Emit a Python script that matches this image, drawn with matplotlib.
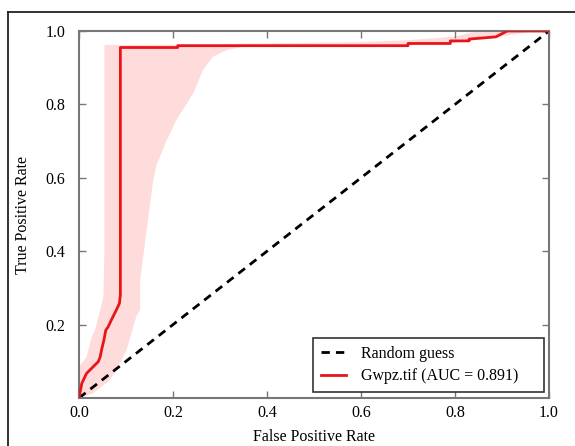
import numpy as np
import matplotlib
matplotlib.use("Agg")
import matplotlib.pyplot as plt
from matplotlib.lines import Line2D

# ROC curve
roc_fpr = [0.0, 0.006, 0.016, 0.030, 0.041, 0.045, 0.048, 0.053, 0.057, 0.062,
           0.069, 0.076, 0.081, 0.086, 0.088, 0.088, 0.21, 0.21, 0.70, 0.70,
           0.79, 0.79, 0.83, 0.83, 0.887, 0.911, 1.0]
roc_tpr = [0.0, 0.040, 0.067, 0.085, 0.099, 0.112, 0.131, 0.158, 0.185, 0.194,
           0.213, 0.231, 0.244, 0.258, 0.281, 0.955, 0.955, 0.960, 0.960, 0.966,
           0.966, 0.973, 0.973, 0.978, 0.984, 1.0, 1.0]

# confidence band, upper/left edge
band_hi_x = [0.0, 0.006, 0.016, 0.027, 0.034, 0.045, 0.052, 0.054, 0.054,
             0.2, 0.4, 0.6, 0.7, 0.8, 0.85, 1.0]
band_hi_y = [0.085, 0.095, 0.112, 0.167, 0.185, 0.24, 0.276, 0.40, 0.962,
             0.963, 0.966, 0.970, 0.975, 0.985, 1.0, 1.0]
# confidence band, lower/right edge
band_lo_x = [0.0, 0.03, 0.066, 0.091, 0.101, 0.122, 0.13, 0.13, 0.144, 0.158,
             0.165, 0.186, 0.207, 0.243, 0.264, 0.285, 0.314, 0.35, 0.5, 0.7,
             0.8, 0.9, 0.97, 1.0]
band_lo_y = [0.0, 0.013, 0.049, 0.104, 0.131, 0.222, 0.24, 0.32, 0.458, 0.594,
             0.635, 0.70, 0.757, 0.83, 0.894, 0.93, 0.948, 0.957, 0.958, 0.962,
             0.968, 0.985, 1.0, 1.0]

auc = 0.891
label = "Gwpz.tif"

plt.rcParams['font.family'] = ['Liberation Serif', 'DejaVu Serif']
plt.rcParams['font.size'] = 11.5

fig = plt.figure(figsize=(5.75, 4.46), dpi=100)
ax = fig.add_axes([0.1374, 0.1076, 0.8174, 0.8229])

# outer frame of the screenshot (left and top only)
fig.add_artist(Line2D([8/575, 8/575], [0, 1 - 12/446], transform=fig.transFigure,
                      color='#222222', lw=1.3))
fig.add_artist(Line2D([8/575, 1], [1 - 12/446, 1 - 12/446], transform=fig.transFigure,
                      color='#222222', lw=1.3))

poly_x = list(band_hi_x) + list(band_lo_x[::-1])
poly_y = list(band_hi_y) + list(band_lo_y[::-1])
ax.fill(poly_x, poly_y, color='#ffdcdc', lw=0, zorder=1)

ax.plot([0, 1], [0, 1], 'k--', lw=2, dashes=(3, 2.2), label='Random guess', zorder=2)
ax.plot(roc_fpr, roc_tpr, color='#e8141a', lw=2, label='%s (AUC = %.3f)' % (label, auc),
        zorder=3)

ax.set_xlim(0, 1)
ax.set_ylim(0, 1)
ax.set_xticks([0.0, 0.2, 0.4, 0.6, 0.8, 1.0])
ax.set_yticks([0.2, 0.4, 0.6, 0.8, 1.0])
ax.set_xlabel('False Positive Rate', labelpad=6)
ax.set_ylabel('True Positive Rate', labelpad=10)
ax.tick_params(direction='in', top=True, right=True, length=5, color='#777777',
               width=1, labelsize=11.5)
ax.tick_params(axis='y', pad=10)
ax.tick_params(axis='x', pad=5)
for s in ax.spines.values():
    s.set_color('#777777')
    s.set_linewidth(1.5)

# legend box stretched to the width seen in the reference
leg = ax.legend(loc='lower left', mode='expand', bbox_to_anchor=(0.497, 0.016, 0.492, 0.139),
                borderaxespad=0, fancybox=False, framealpha=1, edgecolor='#333333',
                fontsize=11.5, borderpad=0.5, handlelength=1.6, handletextpad=0.9,
                labelspacing=0.4)
leg.get_frame().set_linewidth(1.2)

fig.savefig('out.png', dpi=100)
